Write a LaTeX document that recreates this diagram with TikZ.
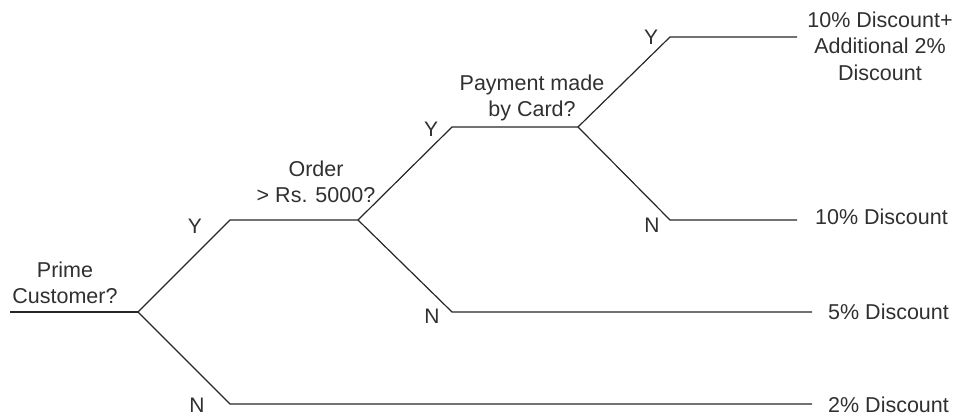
\documentclass[tikz,border=0pt]{standalone}
\usepackage{fontspec}
\setmainfont{Liberation Sans}
\definecolor{txt}{HTML}{303030}
\begin{document}
\begin{tikzpicture}[x=1pt,y=1pt,
  branch/.style={line width=1.2pt, draw=black!85},
  lbl/.style={inner sep=0pt, text=txt, font=\fontsize{21.5}{26.5}\selectfont, align=center},
  yn/.style={inner sep=0pt, text=txt, font=\fontsize{21}{24}\selectfont}]
\useasboundingbox (0,0) rectangle (959,417);
% junctions
\coordinate (s) at (10,105);
\coordinate (j1) at (138,105);
\coordinate (y1) at (230,197);
\coordinate (n1) at (230,13);
\coordinate (j2) at (358,197);
\coordinate (y2) at (452,290);
\coordinate (n2) at (452,105);
\coordinate (j3) at (578,290);
\coordinate (y3) at (670,380);
\coordinate (n3) at (670,197);
\coordinate (e1) at (797,380);
\coordinate (e2) at (797,197);
\coordinate (e3) at (812,105);
\coordinate (e4) at (812,13);
% branches
\draw[branch] (s) -- (j1);
\draw[branch] (j1) -- (y1) -- (j2);
\draw[branch] (j1) -- (n1) -- (e4);
\draw[branch] (j2) -- (y2) -- (j3);
\draw[branch] (j2) -- (n2) -- (e3);
\draw[branch] (j3) -- (y3) -- (e1);
\draw[branch] (j3) -- (n3) -- (e2);
% questions
\node[lbl] (q1) at (65,134) {Prime\\Customer?};
\node[lbl] (q2) at (316,235) {Order\\> Rs. 5000?};
\node[lbl] (q3) at (532,319) {Payment made\\by Card?};
% outcomes
\node[lbl] (o1) at (880,371) {10\% Discount+\\Additional 2\%\\Discount};
\node[lbl, anchor=west] (o2) at (815,200) {10\% Discount};
\node[lbl, anchor=west] (o3) at (828,105) {5\% Discount};
\node[lbl, anchor=west] (o4) at (828,12) {2\% Discount};
% Y/N
\node[yn] (ly1) at (195,191) {Y};
\node[yn] (ln1) at (197,12) {N};
\node[yn] (ly2) at (431,288) {Y};
\node[yn] (ln2) at (432,101) {N};
\node[yn] (ly3) at (651,380) {Y};
\node[yn] (ln3) at (652,192) {N};
\end{tikzpicture}
\end{document}
